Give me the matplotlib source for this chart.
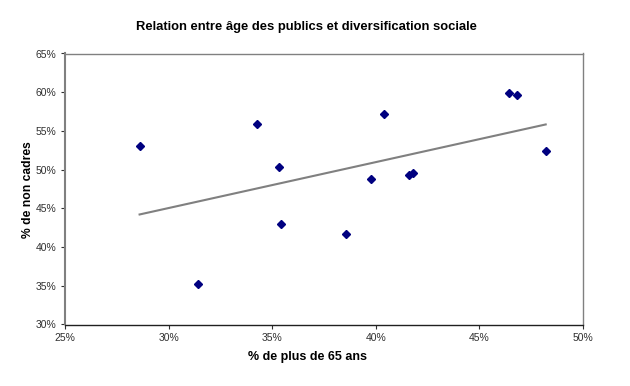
import numpy as np
import matplotlib
matplotlib.use("Agg")
import matplotlib.pyplot as plt
from matplotlib.ticker import FuncFormatter

plt.rcParams['font.family'] = ['Liberation Sans', 'DejaVu Sans']

# % de plus de 65 ans / % de non cadres
pct_65plus = [28.6, 31.4, 34.25, 35.33, 35.42, 40.41, 39.77, 38.58, 41.6, 41.8, 48.2, 46.41, 46.83]
pct_non_cadres = [53.0, 35.2, 55.86, 50.38, 43.0, 57.2, 48.75, 41.69, 49.3, 49.6, 52.4, 59.9, 59.6]

x_ticks = [25, 30, 35, 40, 45, 50]
y_ticks = [30, 35, 40, 45, 50, 55, 60, 65]

x = np.array(pct_65plus)
y = np.array(pct_non_cadres)
a, b = np.polyfit(x, y, 1)
xl = np.array([x.min(), x.max()])

fig = plt.figure(figsize=(6.3, 3.86), dpi=100)
ax = fig.add_axes([65/630, 1-324.5/386, (583-65)/630, (324.5-53.5)/386])

ax.plot(xl, a*xl + b, color='#808080', lw=1.5, zorder=2)
ax.plot(x, y, 'D', color='#000080', ms=4, zorder=3)

ax.set_xlim(25, 50)
ax.set_ylim(30, 65)
ax.set_xticks(x_ticks)
ax.set_yticks(y_ticks)
pct = FuncFormatter(lambda v, p: '%d%%' % v)
ax.xaxis.set_major_formatter(pct)
ax.yaxis.set_major_formatter(pct)
ax.tick_params(labelsize=7.5, colors='#303030', length=3, width=0.8, pad=3)

for s in ['top', 'right']:
    ax.spines[s].set_color('#808080')
    ax.spines[s].set_linewidth(1)
ax.spines['left'].set_color('#808080')
ax.spines['left'].set_linewidth(1.5)
ax.spines['bottom'].set_color('#202020')
ax.spines['bottom'].set_linewidth(1)

fig.text(306/630, 1-27/386, 'Relation entre âge des publics et diversification sociale',
         ha='center', va='center', fontsize=9.4, fontweight='bold')
fig.text(307/630, 1-357/386, '% de plus de 65 ans', ha='center', va='center',
         fontsize=9, fontweight='bold')
fig.text(28/630, 1-190/386, '% de non cadres', ha='center', va='center',
         fontsize=8.7, fontweight='bold', rotation=90)

fig.savefig('out.png', dpi=100)
